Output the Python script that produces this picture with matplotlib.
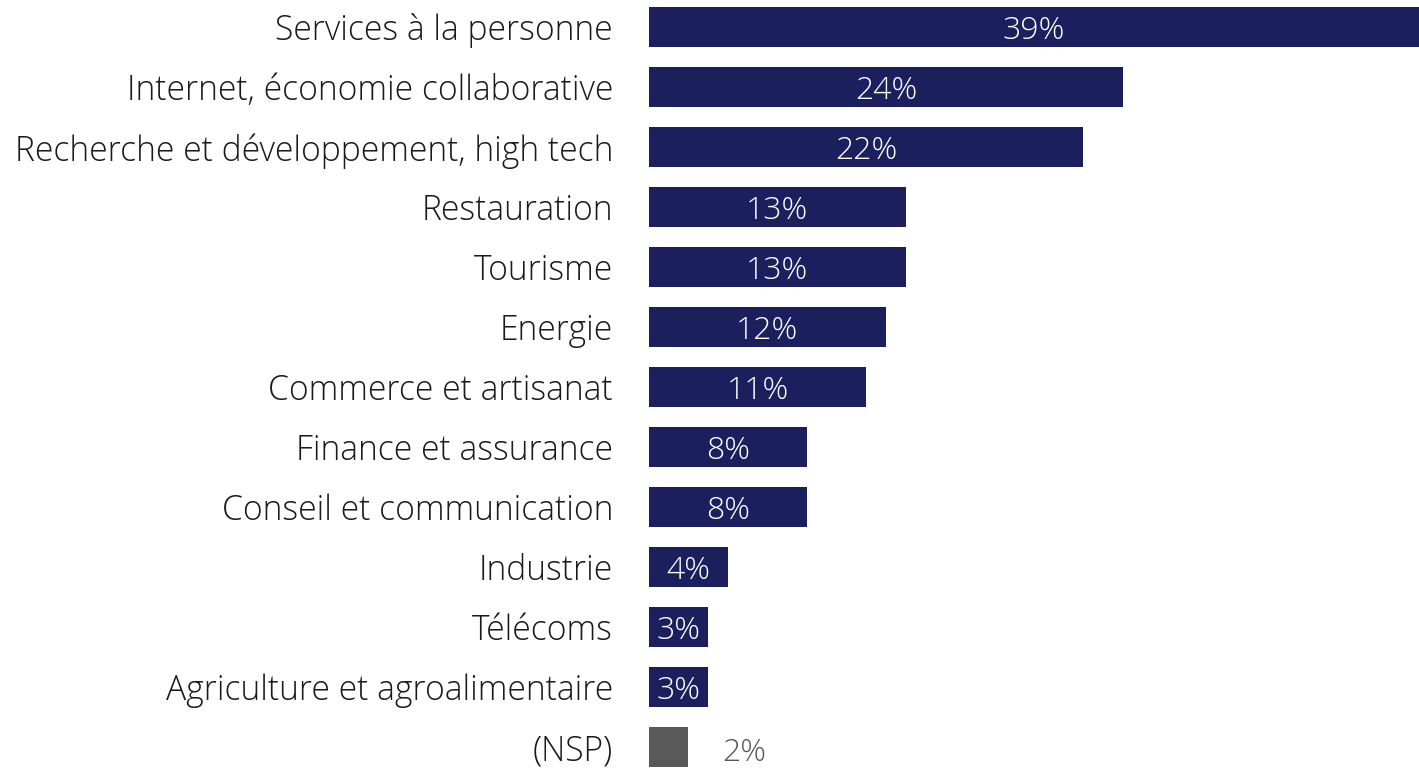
import matplotlib
matplotlib.use("Agg")
import matplotlib.pyplot as plt

categories = [
    "Services à la personne",
    "Internet, économie collaborative",
    "Recherche et développement, high tech",
    "Restauration",
    "Tourisme",
    "Energie",
    "Commerce et artisanat",
    "Finance et assurance",
    "Conseil et communication",
    "Industrie",
    "Télécoms",
    "Agriculture et agroalimentaire",
    "(NSP)",
]
values = [39, 24, 22, 13, 13, 12, 11, 8, 8, 4, 3, 3, 2]

navy = "#1b1f5e"
grey = "#595959"

plt.rcParams['font.family'] = ['Open Sans', 'DejaVu Sans']

fig = plt.figure(figsize=(14.19, 7.68), dpi=100)
ax = fig.add_axes([649 / 1419, 0, 1 - 649 / 1419, 1])

colors = [navy] * (len(values) - 1) + [grey]
ypos = list(range(len(values)))
ax.barh(ypos, values, height=0.68, color=colors)

for y, v, c in zip(ypos, values, colors):
    if c == navy:
        ax.text(v / 2, y + 0.06, f"{v}%", ha="center", va="center",
                color="white", fontsize=23, fontweight="light")
    else:
        ax.text(v + 2.8, y + 0.1, f"{v}%", ha="center", va="center",
                color=grey, fontsize=23, fontweight="light")

ax.set_xlim(0, 39)
ax.set_ylim(12.35, -0.45)
ax.set_yticks(ypos)
ax.set_yticklabels(categories, fontsize=24.2, fontweight="light", color="#1a1a1a")
ax.tick_params(axis="y", length=0, pad=26)
ax.set_xticks([])
for s in ax.spines.values():
    s.set_visible(False)

fig.savefig("out.png", dpi=100)
